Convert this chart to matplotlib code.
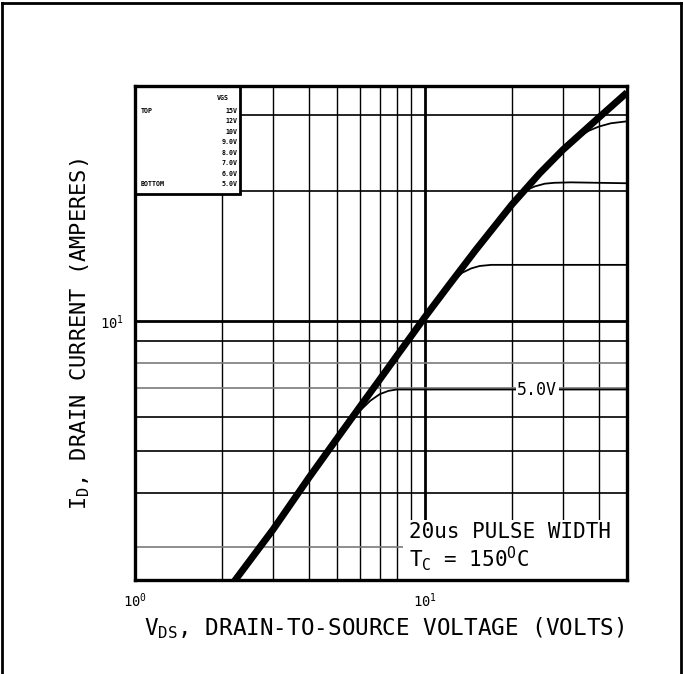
import matplotlib
matplotlib.use("Agg")
import matplotlib.pyplot as plt
from matplotlib.patches import Rectangle
from matplotlib.lines import Line2D

plt.rcParams['font.family'] = ['DejaVu Sans Mono', 'DejaVu Sans']
plt.rcParams['mathtext.fontset'] = 'custom'
plt.rcParams['mathtext.rm'] = 'DejaVu Sans Mono'
plt.rcParams['mathtext.it'] = 'DejaVu Sans Mono'
plt.rcParams['mathtext.default'] = 'regular'

# ---- data ----
env_x = [2.2, 3, 4, 5, 6, 7, 8, 9, 10, 12, 15, 20, 25, 30, 40, 50]
env_y = [2.5, 3.3, 4.36, 5.37, 6.36, 7.33, 8.3, 9.25, 10.2, 12.0, 14.6, 18.6, 22.0, 24.9, 29.6, 33.8]

v5_x = [5.0, 5.5, 6.0, 6.5, 7.0, 7.5, 8.0, 50]
v5_y = [5.37, 5.8, 6.22, 6.55, 6.78, 6.9, 6.95, 6.95]

v6_x = [11.8, 12.5, 13.5, 14.5, 15.5, 17, 20, 50]
v6_y = [11.8, 12.35, 12.95, 13.25, 13.42, 13.5, 13.5, 13.5]

v7_x = [19.5, 21, 22.5, 24, 26, 28, 32, 50]
v7_y = [18.2, 19.4, 20.1, 20.5, 20.8, 20.9, 20.95, 20.85]

v8_x = [31, 34, 37, 40, 44, 50]
v8_y = [25.4, 26.7, 27.6, 28.2, 28.7, 29.0]

grid_x = [2, 3, 4, 5, 6, 7, 8, 9, 10, 20, 30, 40]
grid_y = [3, 4, 5, 6, 7, 8, 9, 10, 20, 30]
light_grid_y = [3, 7, 8]

legend_vgs = ['15V', '12V', '10V', '9.0V', '8.0V', '7.0V', '6.0V', '5.0V']
x_ticks = [1, 10]
x_tick_labels = [r'$10^0$', r'$10^1$']
y_ticks = [10]
y_tick_labels = [r'$10^1$']

# ---- figure ----
fig = plt.figure(figsize=(6.83, 6.74), dpi=100)
ax = fig.add_axes([0.1977, 0.1395, 0.7203, 0.7329])
ax.set_xscale('log')
ax.set_yscale('log')
ax.set_xlim(1, 50)
ax.set_ylim(2.52, 35)

for gx in grid_x:
    ax.axvline(gx, color='black', lw=2.0 if gx == 10 else 1.0, zorder=1)
for gy in grid_y:
    col = '#7a7a7a' if gy in light_grid_y else 'black'
    ax.axhline(gy, color=col, lw=2.0 if gy == 10 else 1.2, zorder=1)

ax.plot(env_x, env_y, color='black', lw=5.0, solid_capstyle='butt', zorder=3)
for xs, ys in [(v5_x, v5_y), (v6_x, v6_y), (v7_x, v7_y), (v8_x, v8_y)]:
    ax.plot(xs, ys, color='black', lw=1.3, zorder=3)

# 5.0V label
ax.text(24.5, 6.95, '5.0V', fontsize=12, ha='center', va='center', zorder=5,
        bbox=dict(facecolor='white', edgecolor='none', pad=1.0))

# legend box
ax.add_patch(Rectangle((0, 0.781), 0.213, 0.219, transform=ax.transAxes,
                       facecolor='white', edgecolor='black', lw=2.0, zorder=6))
ax.text(0.19, 0.982, 'VGS', transform=ax.transAxes, fontsize=4.8, fontweight='bold',
        ha='right', va='top', zorder=7)
row_top = 0.956
row_step = 0.0213
for i, lab in enumerate(legend_vgs):
    ax.text(0.208, row_top - i * row_step, lab, transform=ax.transAxes, fontsize=4.8,
            fontweight='bold', ha='right', va='top', zorder=7)
ax.text(0.012, row_top, 'TOP', transform=ax.transAxes, fontsize=4.8, fontweight='bold',
        ha='left', va='top', zorder=7)
ax.text(0.012, row_top - 7 * row_step, 'BOTTOM', transform=ax.transAxes, fontsize=4.8,
        fontweight='bold', ha='left', va='top', zorder=7)

# annotation box
ax.add_patch(Rectangle((0.545, 0.0), 0.455, 0.121, transform=ax.transAxes,
                       facecolor='white', edgecolor='none', zorder=4))
ax.text(0.557, 0.097, '20us PULSE WIDTH', transform=ax.transAxes, fontsize=15,
        ha='left', va='center', zorder=7)
ax.text(0.557, 0.044, r'T$_C$ = 150$^O$C', transform=ax.transAxes, fontsize=15,
        ha='left', va='center', zorder=7)

# ticks and labels
ax.set_xticks(x_ticks)
ax.set_xticklabels(x_tick_labels, fontsize=10)
ax.set_xticks([], minor=True)
ax.set_yticks(y_ticks)
ax.set_yticklabels(y_tick_labels, fontsize=10)
ax.set_yticks([], minor=True)
ax.tick_params(length=0, pad=8)

for s in ax.spines.values():
    s.set_linewidth(2.4)
    s.set_zorder(8)

fig.text(0.563, 0.068, r'V$_{DS}$, DRAIN-TO-SOURCE VOLTAGE (VOLTS)', fontsize=16.3,
         ha='center', va='center')
fig.text(0.117, 0.505, r'I$_D$, DRAIN CURRENT (AMPERES)', fontsize=15.8,
         ha='center', va='center', rotation=90)

# outer frame (top, left, right)
fig.add_artist(Line2D([0.003, 0.997], [0.996, 0.996], transform=fig.transFigure, color='black', lw=2))
fig.add_artist(Line2D([0.003, 0.003], [0.0, 0.996], transform=fig.transFigure, color='black', lw=2))
fig.add_artist(Line2D([0.997, 0.997], [0.0, 0.996], transform=fig.transFigure, color='black', lw=2))

fig.savefig('out.png', dpi=100)
